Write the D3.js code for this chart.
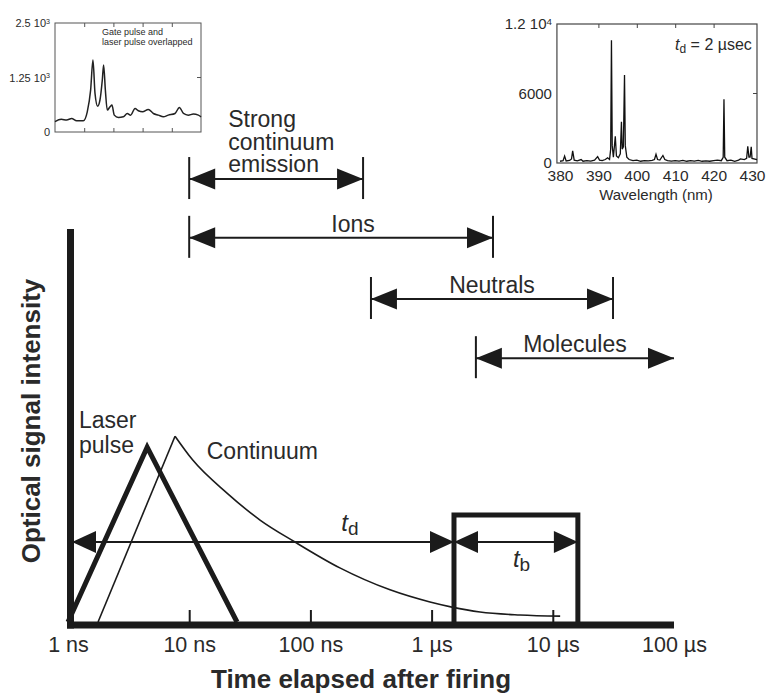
<!DOCTYPE html>
<html>
<head>
<meta charset="utf-8">
<script src="https://cdn.jsdelivr.net/npm/d3@7"></script>
<style>
  html, body { margin: 0; padding: 0; background: #fff; }
  svg { display: block; font-family: "Liberation Sans", Arial, Helvetica, sans-serif; }
</style>
</head>
<body>
<svg id="chart"></svg>
<script>
// ---- main time axis (log seconds) ----
const timeTicks = [1e-9, 1e-8, 1e-7, 1e-6, 1e-5, 1e-4];
const timeTickLabels = ['1 ns', '10 ns', '100 ns', '1 \u00b5s', '10 \u00b5s', '100 \u00b5s'];

// signal traces: [time (s), intensity (a.u.)]
const laserPulse = [[1.0e-9, 0], [4.5e-9, 44.6], [24.8e-9, 0]];
const continuumRise = [[1.77e-9, 0], [7.64e-9, 47.4]];
const continuumDecay = [
  [7.64e-9, 47.4], [10.7e-9, 41.3], [20.5e-9, 32.9], [38.4e-9, 26.0], [74.6e-9, 20.4],
  [175e-9, 13.8], [454e-9, 8.2], [970e-9, 5.1], [1.47e-6, 3.8], [2.51e-6, 2.55],
  [5.36e-6, 1.8], [11.5e-6, 1.5]
];

// gate window and delay
const gateWindow = [1.53e-6, 16.1e-6];
const gateHeight = 27.3;
const delayRange = [1e-9, 1.53e-6];
const delayLevel = 20.4;
const delayLabelTime = 1.8e-7;

// emission regimes: label, from, to, level, bar at right end
const regimeLabels = ['Strong continuum emission', 'Ions', 'Neutrals', 'Molecules'];
const regimeFrom = [10e-9, 10e-9, 316e-9, 2.32e-6];
const regimeTo = [272e-9, 3.21e-6, 31.4e-6, 1e-4];
const regimeLevel = [113.0, 98.0, 82.4, 67.3];
const regimeRightBar = [true, true, true, false];

// ---- inset 1: gate pulse and laser pulse overlapped ----
const gateInsetYTicks = [0, 1250, 2500];
const gateInsetYLabels = [['0', ''], ['1.25 10', '3'], ['2.5 10', '3']];
const gateInsetXTicks = [20, 40, 60, 80];
const gateInsetTrace = [
  [0, 236], [4.3, 290], [8, 275], [11.4, 310], [14.8, 257], [19.4, 257], [22.1, 463],
  [24.4, 960], [26.0, 1650], [27.4, 885], [29.2, 593], [30.8, 734], [32.4, 1193],
  [33.3, 1537], [34.5, 960], [35.8, 502], [37.7, 578], [39.0, 617], [40.6, 387],
  [43.4, 333], [46.8, 349], [49.5, 425], [51.8, 387], [54.8, 540], [57.1, 487],
  [60.0, 463], [63.9, 517], [67.4, 425], [70.8, 387], [74.2, 349], [77.6, 387],
  [82.2, 425], [85.2, 563], [88.0, 425], [91.3, 387], [94.7, 410], [98.2, 387], [100, 349]
];

// ---- inset 2: spectrum at td = 2 usec ----
const specXTicks = [380, 390, 400, 410, 420, 430];
const specFrame = [379.2, 431.3];
const specYTicks = [0, 6000, 12000];
const specYLabels = [['0', ''], ['6000', ''], ['1.2 10', '4']];
const spectrum = [
  [380, 150], [380.8, 200], [381.2, 600], [381.6, 180], [382.5, 220], [383, 350], [383.3, 1050],
  [383.7, 250], [384.5, 180], [385.5, 300], [386, 150], [387, 200], [388, 160], [389, 250],
  [389.8, 550], [390.3, 250], [391, 200], [391.8, 300], [392.4, 450], [392.9, 300], [393.2, 1200],
  [393.4, 10600], [393.6, 1500], [393.9, 500], [394.4, 2300], [394.7, 600], [395.2, 450],
  [395.7, 800], [396.0, 3550], [396.2, 1200], [396.5, 1400], [396.8, 7600], [397.0, 1500],
  [397.4, 500], [398, 300], [399, 200], [400, 250], [401, 150], [402, 200], [403, 180],
  [404, 220], [404.6, 300], [405, 750], [405.4, 300], [406, 250], [406.8, 650], [407.3, 300],
  [408, 200], [409, 170], [410, 200], [411, 160], [412, 220], [413, 150], [414, 200],
  [415, 160], [416, 220], [417, 150], [418, 180], [419, 150], [420, 200], [421, 250],
  [422, 200], [422.5, 500], [422.7, 5500], [422.9, 500], [423.5, 200], [424.5, 250],
  [425.5, 150], [426.5, 250], [427, 350], [428, 300], [428.6, 400], [428.9, 1450],
  [429.2, 500], [429.5, 500], [429.8, 1400], [430, 400], [431.3, 300]
];

const W = 767, H = 695;
const ink = '#1b1b1b';
const textInk = '#2a2a2a';
const fontFamily = '"Liberation Sans", Arial, sans-serif';

const svg = d3.select('#chart').attr('width', W).attr('height', H);

const x = d3.scaleLog().domain([1e-9, 1e-4]).range([68, 674]);
const y = d3.scaleLinear().domain([0, 100]).range([622, 230]);

// arrowhead: filled triangle with its tip at (tx, ty), pointing dir (+1 right, -1 left)
function arrowHead(g, tx, ty, dir, len, half) {
  g.append('path')
    .attr('d', `M${tx},${ty}L${tx - dir * len},${ty - half}L${tx - dir * len},${ty + half}Z`)
    .attr('fill', ink);
}

function supLabel(sel, parts) {
  sel.each(function(d, i) {
    const t = d3.select(this).text(null);
    t.append('tspan').text(parts[i][0]);
    if (parts[i][1]) t.append('tspan').attr('dy', '-0.45em').attr('font-size', '0.65em').text(parts[i][1]);
  });
}

// ---- main axes ----
const xAxis = svg.append('g')
  .attr('transform', `translate(0,${y(0)})`)
  .call(d3.axisBottom(x).tickValues(timeTicks).tickFormat((d, i) => timeTickLabels[i])
    .tickSizeInner(-12).tickSizeOuter(0).tickPadding(15));
xAxis.select('.domain').remove();
xAxis.selectAll('.tick line').attr('stroke', ink).attr('stroke-width', 2)
  .filter((d, i) => i === 0 || i === timeTicks.length - 1).remove();
xAxis.selectAll('.tick text').attr('font-size', '21.5px').attr('fill', textInk)
  .attr('font-family', fontFamily);

svg.append('line')
  .attr('x1', x(1e-9) - 1).attr('x2', x(1e-4))
  .attr('y1', y(0) + 3).attr('y2', y(0) + 3)
  .attr('stroke', ink).attr('stroke-width', 7);
svg.append('line')
  .attr('x1', x(1e-9) + 2.5).attr('x2', x(1e-9) + 2.5)
  .attr('y1', y(100) - 1).attr('y2', y(0) + 6.5)
  .attr('stroke', ink).attr('stroke-width', 7);

// axis titles
svg.append('text')
  .attr('x', 361).attr('y', 688)
  .attr('text-anchor', 'middle').attr('font-size', '26px').attr('font-weight', 'bold').attr('fill', textInk)
  .text('Time elapsed after firing');
svg.append('text')
  .attr('transform', 'translate(40,421) rotate(-90)')
  .attr('text-anchor', 'middle').attr('font-size', '26px').attr('font-weight', 'bold').attr('fill', textInk)
  .text('Optical signal intensity');

// ---- traces ----
const line = d3.line().x(d => x(d[0])).y(d => y(d[1]));

svg.append('path').datum(laserPulse)
  .attr('d', line).attr('fill', 'none').attr('stroke', ink).attr('stroke-width', 5)
  .attr('stroke-linejoin', 'miter');
svg.append('path').datum(continuumRise)
  .attr('d', line).attr('fill', 'none').attr('stroke', ink).attr('stroke-width', 1.6);
svg.append('path').datum(continuumDecay)
  .attr('d', line.curve(d3.curveMonotoneX)).attr('fill', 'none').attr('stroke', ink).attr('stroke-width', 1.6);

// gate window box
svg.append('path')
  .attr('d', `M${x(gateWindow[0])},${y(0)}V${y(gateHeight)}H${x(gateWindow[1])}V${y(0)}`)
  .attr('fill', 'none').attr('stroke', ink).attr('stroke-width', 5).attr('stroke-linejoin', 'miter');

// td and tb arrows
const arrows = svg.append('g');
arrows.append('line')
  .attr('x1', x(delayRange[0])).attr('x2', x(gateWindow[1]))
  .attr('y1', y(delayLevel)).attr('y2', y(delayLevel))
  .attr('stroke', ink).attr('stroke-width', 2);
arrowHead(arrows, x(delayRange[0]) + 4, y(delayLevel), -1, 24, 11);
arrowHead(arrows, x(delayRange[1]), y(delayLevel), 1, 24, 11);
arrowHead(arrows, x(gateWindow[0]), y(delayLevel), -1, 24, 11);
arrowHead(arrows, x(gateWindow[1]), y(delayLevel), 1, 24, 11);

function subLabel(px, py, sub) {
  const t = svg.append('text').attr('x', px).attr('y', py).attr('fill', textInk).attr('font-size', '24px');
  t.append('tspan').attr('font-style', 'italic').text('t');
  t.append('tspan').attr('dy', 4).attr('font-size', '19px').text(sub);
}
subLabel(x(delayLabelTime), y(delayLevel) - 11, 'd');
subLabel(x(Math.sqrt(gateWindow[0] * gateWindow[1])) - 3, y(delayLevel) + 25, 'b');

// trace labels
svg.append('text').attr('x', x(laserPulse[0][0]) + 11).attr('y', 428)
  .attr('font-size', '23px').attr('fill', textInk).text('Laser');
svg.append('text').attr('x', x(laserPulse[0][0]) + 11).attr('y', 453)
  .attr('font-size', '23px').attr('fill', textInk).text('pulse');
svg.append('text').attr('x', x(continuumDecay[1][0]) + 14).attr('y', 459)
  .attr('font-size', '23px').attr('fill', textInk).text('Continuum');

// ---- emission regimes ----
regimeLabels.forEach((lab, i) => {
  const g = svg.append('g');
  const x0 = x(regimeFrom[i]), x1 = x(regimeTo[i]), ly = y(regimeLevel[i]);
  g.append('line').attr('x1', x0).attr('x2', x1).attr('y1', ly).attr('y2', ly)
    .attr('stroke', ink).attr('stroke-width', 2);
  g.append('line').attr('x1', x0).attr('x2', x0).attr('y1', ly - 22).attr('y2', ly + 20)
    .attr('stroke', ink).attr('stroke-width', 2);
  if (regimeRightBar[i]) {
    g.append('line').attr('x1', x1).attr('x2', x1).attr('y1', ly - 22).attr('y2', ly + 20)
      .attr('stroke', ink).attr('stroke-width', 2);
  }
  arrowHead(g, x0, ly, -1, 26, 10.5);
  arrowHead(g, x1, ly, 1, 26, 10.5);

  if (i === 0) {
    // three-line label, left aligned
    lab.split(' ').forEach((w, k) => {
      g.append('text').attr('x', x0 + 39).attr('y', ly - 52 + k * 22.5)
        .attr('font-size', '23px').attr('fill', textInk).text(w);
    });
  } else {
    const mid = x(Math.sqrt(regimeFrom[i] * regimeTo[i]));
    g.append('text').attr('x', mid + (i === 1 ? 12 : 0)).attr('y', ly - 6)
      .attr('text-anchor', 'middle').attr('font-size', '23px').attr('fill', textInk).text(lab);
  }
});

// ---- inset 1 ----
const gx = d3.scaleLinear().domain([0, 100]).range([55, 201]);
const gy = d3.scaleLinear().domain([0, 2500]).range([132, 23]);
const inset1 = svg.append('g');
inset1.append('rect').attr('x', gx(0)).attr('y', gy(2500)).attr('width', gx(100) - gx(0)).attr('height', gy(0) - gy(2500))
  .attr('fill', 'none').attr('stroke', '#555').attr('stroke-width', 1);
inset1.append('g').attr('transform', `translate(${gx(0)},0)`)
  .call(d3.axisLeft(gy).tickValues(gateInsetYTicks).tickSize(0).tickPadding(5))
  .call(a => a.select('.domain').remove())
  .selectAll('.tick text').attr('font-size', '11px').attr('fill', textInk)
  .attr('font-family', fontFamily)
  .call(s => supLabel(s, gateInsetYLabels));
[gy(0), gy(2500)].forEach((ty, k) => {
  inset1.append('g').attr('transform', `translate(0,${ty})`)
    .call((k === 0 ? d3.axisTop(gx) : d3.axisBottom(gx)).tickValues(gateInsetXTicks).tickSize(4).tickFormat(''))
    .call(a => a.select('.domain').remove())
    .selectAll('line').attr('stroke', '#555');
});
inset1.append('line').attr('x1', gx(100)).attr('x2', gx(100) - 4).attr('y1', gy(1250)).attr('y2', gy(1250)).attr('stroke', '#555');
inset1.append('path').datum(gateInsetTrace)
  .attr('d', d3.line().x(d => gx(d[0])).y(d => gy(d[1])).curve(d3.curveMonotoneX))
  .attr('fill', 'none').attr('stroke', '#222').attr('stroke-width', 1.5);
inset1.append('text').attr('x', 102).attr('y', 35).attr('font-size', '9px').attr('fill', textInk).text('Gate pulse and');
inset1.append('text').attr('x', 102).attr('y', 45).attr('font-size', '9px').attr('fill', textInk).text('laser pulse overlapped');

// ---- inset 2 ----
const sx = d3.scaleLinear().domain([380, 430]).range([560, 752]);
const sy = d3.scaleLinear().domain([0, 12000]).range([163, 24]);
const inset2 = svg.append('g');
inset2.append('rect').attr('x', sx(specFrame[0])).attr('y', sy(12000))
  .attr('width', sx(specFrame[1]) - sx(specFrame[0])).attr('height', sy(0) - sy(12000))
  .attr('fill', 'none').attr('stroke', '#444').attr('stroke-width', 1.2);
inset2.append('g').attr('transform', `translate(${sx(specFrame[0])},0)`)
  .call(d3.axisLeft(sy).tickValues(specYTicks).tickSize(0).tickPadding(5))
  .call(a => a.select('.domain').remove())
  .selectAll('.tick text').attr('font-size', '15px').attr('fill', textInk)
  .attr('font-family', fontFamily)
  .call(s => supLabel(s, specYLabels));
inset2.append('g').attr('transform', `translate(0,${sy(0)})`)
  .call(d3.axisBottom(sx).tickValues(specXTicks).tickSize(0).tickPadding(7))
  .call(a => a.select('.domain').remove())
  .selectAll('.tick text').attr('font-size', '15.5px').attr('fill', textInk)
  .attr('font-family', fontFamily);
inset2.append('g').attr('transform', `translate(0,${sy(12000)})`)
  .call(d3.axisBottom(sx).tickValues(specXTicks.slice(1, -1)).tickSize(4).tickFormat(''))
  .call(a => a.select('.domain').remove())
  .selectAll('line').attr('stroke', '#444');
inset2.append('line').attr('x1', sx(specFrame[1])).attr('x2', sx(specFrame[1]) - 4)
  .attr('y1', sy(6000)).attr('y2', sy(6000)).attr('stroke', '#444');
inset2.append('path').datum(spectrum)
  .attr('d', d3.line().x(d => sx(d[0])).y(d => sy(d[1])))
  .attr('fill', 'none').attr('stroke', '#111').attr('stroke-width', 1.3);
inset2.append('text').attr('x', (sx(380) + sx(430)) / 2).attr('y', 200)
  .attr('text-anchor', 'middle').attr('font-size', '15px').attr('fill', textInk).text('Wavelength (nm)');
const tdText = inset2.append('text').attr('x', 675).attr('y', 50).attr('font-size', '16px').attr('fill', textInk);
tdText.append('tspan').attr('font-style', 'italic').text('t');
tdText.append('tspan').attr('dy', 3).attr('font-size', '12px').text('d');
tdText.append('tspan').attr('dy', -3).text(' = 2 \u00b5sec');
</script>
</body>
</html>
